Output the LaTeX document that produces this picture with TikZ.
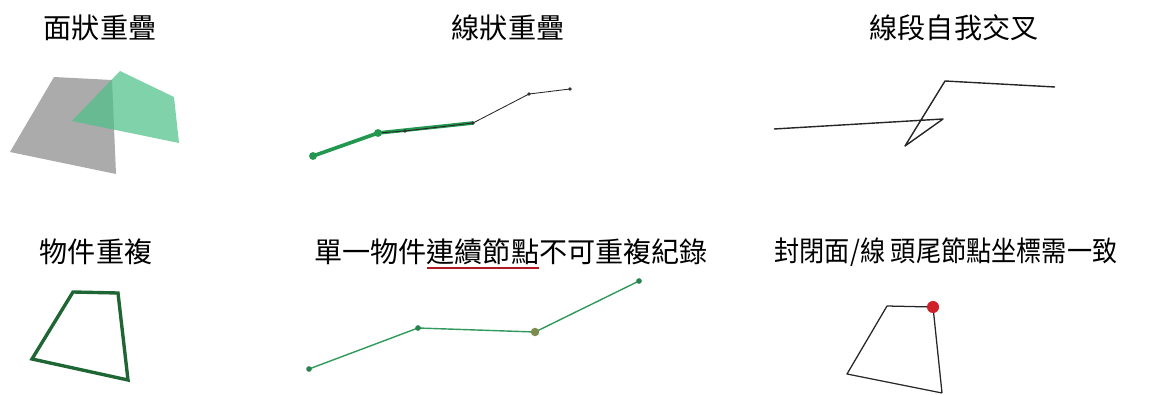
\documentclass[tikz,border=0pt]{standalone}
\usepackage{fontspec}
\setmainfont{Noto Sans CJK TC}
\usetikzlibrary{positioning}
\definecolor{areagreen}{HTML}{4DC088}
\definecolor{areagray}{HTML}{9C9C9C}
\definecolor{linegreen}{HTML}{2F9A5C}
\definecolor{boldgreen}{HTML}{239650}
\definecolor{darkgreen}{HTML}{1E6634}
\definecolor{dotred}{HTML}{D0202A}

\begin{document}
\begin{tikzpicture}[x=0.025cm, y=-0.025cm,
    title/.style={font=\fontsize{20}{24}\selectfont, inner sep=0pt},
    thinline/.style={draw=black!85, line width=0.6pt, line join=round},
    greenline/.style={draw=linegreen, line width=1pt, line join=round}
]
\useasboundingbox (0,0) rectangle (1161,394);

% titles
\node[title] (tarea) at (100,28) {面狀重疊};
\node[title] (tline) at (508,28) {線狀重疊};
\node[title] (tcross) at (954,28) {線段自我交叉};
\node[title] (tdup) at (96,252) {物件重複};
\node[title] (tnode) at (511,252) {單一物件連續節點不可重複紀錄};
\node[title] (tclose) at (946,252) {\scalebox{0.895}[1]{封閉面/線 頭尾節點坐標需一致}};
\draw[dotred!85!black, line width=1.1pt] (427,268) -- (539,268);

% area overlap
\fill[areagray, opacity=0.85] (54,77) -- (112,80) -- (116,174) -- (10,152) -- cycle;
\fill[areagreen, opacity=0.72] (120,71) -- (174,97) -- (179,143) -- (72,121) -- cycle;

% line overlap
\coordinate (l1) at (313,156);
\coordinate (l2) at (378,133);
\coordinate (l3) at (405,131);
\coordinate (l4) at (473,123);
\coordinate (l5) at (529,94);
\coordinate (l6) at (570,89);
\draw[draw=boldgreen, line width=2.6pt, line join=round] (l1) -- (l2) -- (l4);
\draw[thinline] (l2) -- (l3) -- (l4) -- (l5) -- (l6);
\foreach \p in {l1,l2} \fill[boldgreen] (\p) circle (2.8pt);
\foreach \p in {l3,l4,l5,l6} \fill[black!80] (\p) circle (1.3pt);

% self crossing
\coordinate (c1) at (774,129);
\coordinate (c2) at (943,119);
\coordinate (c3) at (905,146);
\coordinate (c4) at (945,81);
\coordinate (c5) at (1055,87);
\draw[thinline, line width=1pt] (c1) -- (c2) -- (c3) -- (c4) -- (c5);

% duplicated object
\coordinate (d1) at (73,292);
\coordinate (d2) at (118,293);
\coordinate (d3) at (128,380);
\coordinate (d4) at (32,359);
\draw[draw=darkgreen, line width=2.4pt, line join=miter] (d1) -- (d2) -- (d3) -- (d4) -- cycle;

% consecutive nodes
\coordinate (n1) at (309,369);
\coordinate (n2) at (418,328);
\coordinate (n3) at (535,332);
\coordinate (n4) at (639,281);
\draw[greenline] (n1) -- (n2) -- (n3) -- (n4);
\foreach \p in {n1,n2,n4} \fill[linegreen!85!black] (\p) circle (2pt);
\fill[brown!55!linegreen] (n3) circle (3pt);

% closed ring
\coordinate (r1) at (847,374);
\coordinate (r2) at (887,306);
\coordinate (r3) at (933,307);
\coordinate (r4) at (942,393);
\draw[thinline, line width=0.9pt] (r4) -- (r1) -- (r2) -- (r3) -- (r4);
\fill[dotred] (r3) circle (4.3pt);
\end{tikzpicture}
\end{document}
